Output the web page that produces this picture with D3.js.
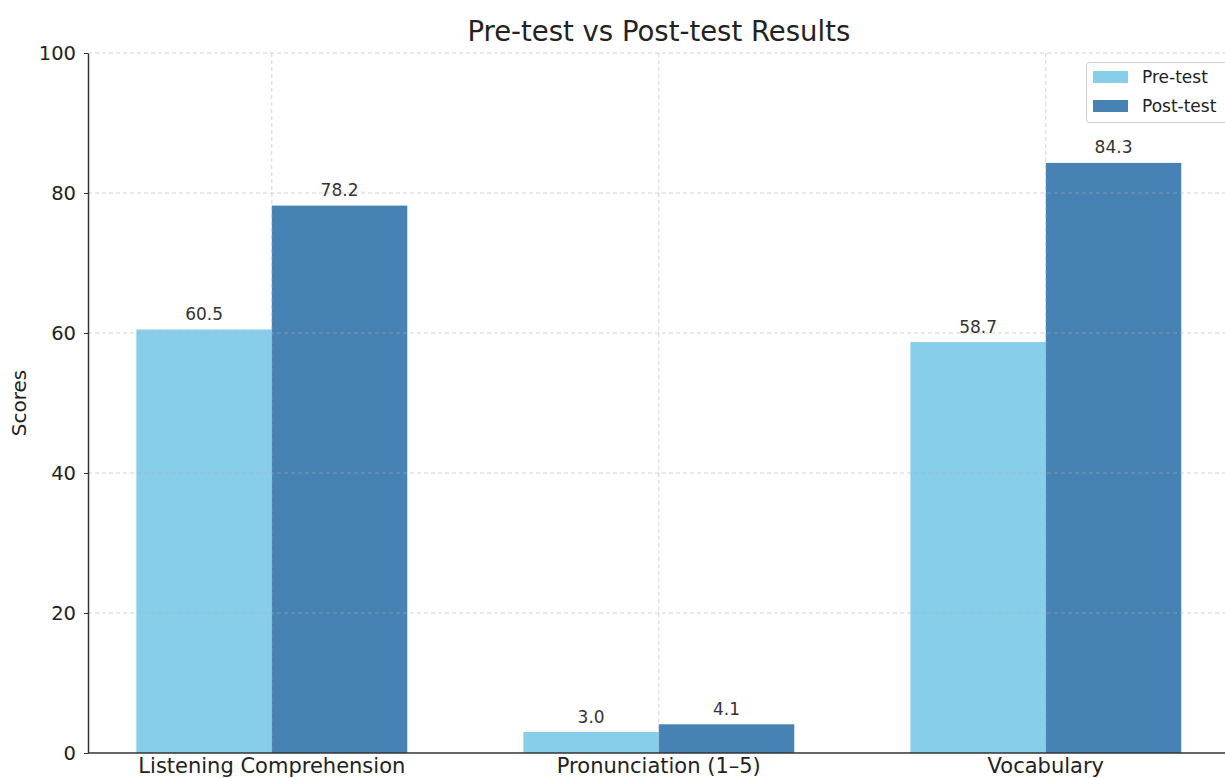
<!DOCTYPE html>
<html>
<head>
<meta charset="utf-8">
<script src="https://cdn.jsdelivr.net/npm/d3@7"></script>
<style>
  body { margin: 0; background: #fff; }
  svg { display: block; font-family: "DejaVu Sans", sans-serif; }
</style>
</head>
<body>
<div id="chart"></div>
<script>
// Pre-test vs Post-test bar chart

const categories = ['Listening Comprehension', 'Pronunciation (1\u20135)', 'Vocabulary'];
const preTest = [60.5, 3.0, 58.7];
const postTest = [78.2, 4.1, 84.3];
const yTicks = [0, 20, 40, 60, 80, 100];
const seriesNames = ['Pre-test', 'Post-test'];
const seriesColors = ['#87ceeb', '#4682b4'];

const width = 1225, height = 778;
const plotLeft = 88, plotTop = 53, plotBottom = 753;
const barW = 0.35;

const svg = d3.select('#chart')
  .append('svg')
  .attr('width', width)
  .attr('height', height);

const x = d3.scaleLinear().domain([-0.475, 2.475]).range([plotLeft, plotLeft + 2.95 * 387]);
const y = d3.scaleLinear().domain([0, 100]).range([plotBottom, plotTop]);

// bars
const series = [preTest, postTest];
series.forEach((vals, s) => {
  const off = s === 0 ? -barW : 0;
  svg.append('g')
    .selectAll('rect')
    .data(vals)
    .enter()
    .append('rect')
    .attr('x', (d, i) => x(i + off))
    .attr('y', d => y(d))
    .attr('width', x(barW) - x(0))
    .attr('height', d => y(0) - y(d))
    .attr('fill', seriesColors[s]);

  svg.append('g')
    .selectAll('text')
    .data(vals)
    .enter()
    .append('text')
    .attr('x', (d, i) => x(i + off + barW / 2))
    .attr('y', d => y(d) - 9.5)
    .attr('text-anchor', 'middle')
    .attr('font-size', 17)
    .attr('fill', '#333')
    .text(d => d.toFixed(1));
});

// grid (drawn over the bars, semi-transparent)
svg.append('g')
  .selectAll('line.hgrid')
  .data(yTicks.slice(1))
  .enter()
  .append('line')
  .attr('x1', plotLeft).attr('x2', width)
  .attr('y1', d => y(d)).attr('y2', d => y(d))
  .attr('stroke', '#b0b0b0')
  .attr('stroke-opacity', 0.55)
  .attr('stroke-dasharray', '4,3')
  .attr('stroke-width', 1);

svg.append('g')
  .selectAll('line.vgrid')
  .data(categories)
  .enter()
  .append('line')
  .attr('x1', (d, i) => x(i)).attr('x2', (d, i) => x(i))
  .attr('y1', plotTop).attr('y2', plotBottom)
  .attr('stroke', '#b0b0b0')
  .attr('stroke-opacity', 0.55)
  .attr('stroke-dasharray', '4,3')
  .attr('stroke-width', 1);

// axes
const yAxis = d3.axisLeft(y).tickValues(yTicks).tickSizeInner(4).tickSizeOuter(0).tickPadding(8);
const gy = svg.append('g').attr('transform', `translate(${plotLeft},0)`).call(yAxis);
gy.select('.domain').attr('stroke', '#333').attr('stroke-width', 1.5);
gy.selectAll('.tick line').attr('stroke', '#333');
gy.selectAll('text').attr('font-size', 19.5).attr('fill', '#222').attr('font-family', '"DejaVu Sans", sans-serif');

svg.append('line')
  .attr('x1', plotLeft).attr('x2', width)
  .attr('y1', plotBottom).attr('y2', plotBottom)
  .attr('stroke', '#333').attr('stroke-width', 1.5);

svg.append('g')
  .selectAll('text.cat')
  .data(categories)
  .enter()
  .append('text')
  .attr('x', (d, i) => x(i))
  .attr('y', 773)
  .attr('text-anchor', 'middle')
  .attr('font-size', 21)
  .attr('fill', '#222')
  .text(d => d);

// y label
svg.append('text')
  .attr('transform', `translate(26,${(plotTop + plotBottom) / 2}) rotate(-90)`)
  .attr('text-anchor', 'middle')
  .attr('font-size', 20)
  .attr('fill', '#222')
  .text('Scores');

// title
svg.append('text')
  .attr('x', x(1))
  .attr('y', 41)
  .attr('text-anchor', 'middle')
  .attr('font-size', 27.5)
  .attr('fill', '#222')
  .text('Pre-test vs Post-test Results');

// legend
const lg = svg.append('g');
lg.append('rect')
  .attr('x', 1086.5).attr('y', 62.5)
  .attr('width', 160).attr('height', 60)
  .attr('rx', 3)
  .attr('fill', '#fff').attr('fill-opacity', 0.8)
  .attr('stroke', '#ccc');
seriesNames.forEach((n, i) => {
  lg.append('rect')
    .attr('x', 1093).attr('y', 71 + i * 29)
    .attr('width', 35).attr('height', 12)
    .attr('fill', seriesColors[i]);
  lg.append('text')
    .attr('x', 1142).attr('y', 83 + i * 29)
    .attr('font-size', 17)
    .attr('fill', '#222')
    .text(n);
});
</script>
</body>
</html>
